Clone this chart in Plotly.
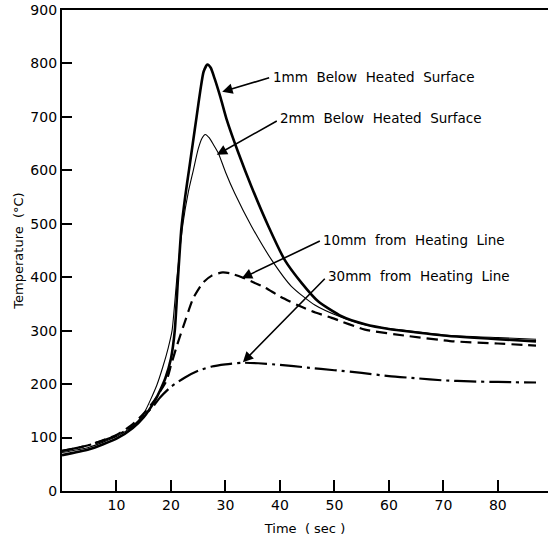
import plotly.graph_objects as go

# 1 mm below heated surface (thick solid)
t_1mm = [0, 5, 10, 13, 15, 17, 18, 19, 20, 20.7, 21.3, 21.9, 22.6, 23.3, 24.0, 24.7, 25.4, 26.0, 26.7, 27.3, 28.0, 29.1, 30.2, 32.4, 34.8, 37.9, 40.9, 44.0, 47.0, 51.3, 55.6, 60.0, 64.8, 70.0, 80.0, 87.0]
T_1mm = [67, 78, 98, 118, 138, 168, 188, 212, 248, 300, 400, 490, 550, 600, 650, 700, 750, 785, 798, 792, 772, 736, 696, 632, 569, 495, 432, 389, 355, 327, 312, 303, 297, 291, 284, 280]

# 2 mm below heated surface (thin solid)
t_2mm = [0, 5, 10, 13, 15, 17.4, 18.5, 19.5, 20.2, 21.1, 22.2, 23.2, 24.1, 25.0, 25.7, 26.3, 27.0, 27.8, 28.7, 30.0, 31.7, 34.8, 38.5, 42.1, 46.4, 51.3, 55.6, 60.0, 65.0, 70.0, 80.0, 87.0]
T_2mm = [72, 82, 102, 122, 145, 198, 232, 268, 300, 400, 500, 560, 600, 640, 660, 667, 661, 648, 632, 597, 557, 495, 432, 383, 348, 325, 311, 304, 298, 292, 287, 284]

# 10 mm from heating line (dashed)
t_10mm = [0, 5, 10, 13, 15, 17, 18, 19.2, 20, 21, 22.6, 24.1, 25.9, 27.5, 29.5, 31, 33, 35, 37.2, 40, 43.4, 46.5, 49.5, 55.6, 63.5, 72, 80, 87]
T_10mm = [75, 86, 105, 125, 145, 170, 186, 207, 235, 269, 318, 361, 390, 403, 409, 407, 400, 391, 381, 364, 347, 334, 324, 302, 290, 280, 276, 272]

# 30 mm from heating line (dash-dot)
t_30mm = [0, 5, 10, 13, 15, 17, 18, 20, 22.5, 25, 27.5, 30, 33, 36, 40, 45, 50, 55, 60, 65, 70, 75, 80, 87]
T_30mm = [75, 86, 104, 121, 140, 162, 175, 195, 212, 225, 233, 237, 240, 239, 236, 231, 226, 221, 215, 211, 207, 205, 204, 203]

x_ticks = [10, 20, 30, 40, 50, 60, 70, 80]
y_ticks = [0, 100, 200, 300, 400, 500, 600, 700, 800, 900]

labels = ["1mm  Below  Heated  Surface", "2mm  Below  Heated  Surface",
          "10mm  from  Heating  Line", "30mm  from  Heating  Line"]
label_pos = [(38.4, 775), (39.7, 697), (47.6, 470), (48.5, 403)]
arrow_tail = [(38.3, 774), (39.7, 694), (47.6, 469), (48.5, 400)]
arrow_head = [(29.4, 747), (28.4, 629), (33.0, 398), (33.2, 241)]

FONT = "DejaVu Sans"

fig = go.Figure()
fig.add_trace(go.Scatter(x=t_1mm, y=T_1mm, mode="lines",
                         line=dict(color="black", width=2.6, shape="spline", smoothing=0.6)))
fig.add_trace(go.Scatter(x=t_2mm, y=T_2mm, mode="lines",
                         line=dict(color="black", width=1.1, shape="spline", smoothing=0.6)))
fig.add_trace(go.Scatter(x=t_10mm, y=T_10mm, mode="lines",
                         line=dict(color="black", width=2.2, dash="11px,6px", shape="spline", smoothing=0.6)))
fig.add_trace(go.Scatter(x=t_30mm, y=T_30mm, mode="lines",
                         line=dict(color="black", width=2.2, dash="22px,5px,3px,5px", shape="spline", smoothing=0.6)))

for txt, (lx, ly), (tx, ty), (hx, hy) in zip(labels, label_pos, arrow_tail, arrow_head):
    fig.add_annotation(x=lx, y=ly, text=txt, showarrow=False, xanchor="left", yanchor="middle",
                       font=dict(family=FONT, size=13.5, color="black"))
    fig.add_annotation(x=hx, y=hy, ax=tx, ay=ty, axref="x", ayref="y", text="",
                       showarrow=True, arrowhead=2, arrowsize=1.3, arrowwidth=1.6,
                       arrowcolor="black", standoff=0, startstandoff=0)

fig.update_layout(
    width=548, height=540,
    margin=dict(l=62, r=0, t=10, b=49),
    paper_bgcolor="white", plot_bgcolor="white",
    showlegend=False,
    font=dict(family=FONT, color="black"),
    xaxis=dict(range=[0, 89.2], tickvals=x_ticks, ticks="inside", ticklen=11, tickwidth=1.5,
               tickcolor="black", showline=True, linewidth=2.2, linecolor="black", mirror=True,
               showgrid=False, zeroline=False, tickfont=dict(family=FONT, size=14),
               title=dict(text="Time  ( sec )", font=dict(family=FONT, size=13), standoff=12)),
    yaxis=dict(range=[0, 900], tickvals=y_ticks, ticks="inside", ticklen=10, tickwidth=1.5,
               tickcolor="black", showline=True, linewidth=2.2, linecolor="black",
               showgrid=False, zeroline=False, tickfont=dict(family=FONT, size=14),
               ticklabeloverflow="allow",
               title=dict(text="Temperature  (°C)", font=dict(family=FONT, size=13), standoff=4)),
)

# remove the default 8px page margin so the 548x540 figure fills the window exactly
fig.write_html("out.html", config={"displayModeBar": False},
               post_script="document.body.style.margin='0';")
